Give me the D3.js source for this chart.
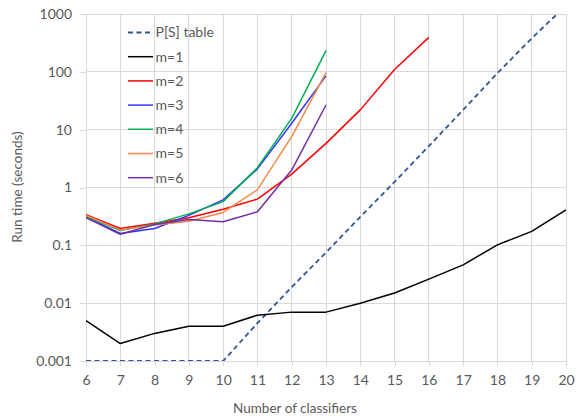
<!DOCTYPE html>
<html>
<head>
<meta charset="utf-8">
<script src="https://cdn.jsdelivr.net/npm/d3@7"></script>
<style>
  html, body { margin: 0; padding: 0; background: #fff; }
  svg { display: block; font-family: Lato, "Open Sans", sans-serif; }
</style>
</head>
<body>
<svg id="chart" width="579" height="416"></svg>
<script>
// Number of classifiers on the x axis
const classifiers = [6, 7, 8, 9, 10, 11, 12, 13, 14, 15, 16, 17, 18, 19, 20];

// Run times in seconds, one array per series (shorter series stop early)
const psTable = [0.001, 0.001, 0.001, 0.001, 0.001, 0.0045, 0.019, 0.075, 0.31, 1.25, 5.2, 22, 95, 380, 1400];
const m1 = [0.005, 0.002, 0.003, 0.004, 0.004, 0.0062, 0.007, 0.007, 0.01, 0.015, 0.026, 0.046, 0.102, 0.174, 0.41];
const m2 = [0.34, 0.195, 0.24, 0.30, 0.42, 0.63, 1.7, 5.8, 22, 110, 395];
const m3 = [0.31, 0.16, 0.195, 0.33, 0.61, 2.1, 12.9, 85];
const m4 = [0.32, 0.18, 0.235, 0.35, 0.57, 2.2, 15.7, 232];
const m5 = [0.33, 0.185, 0.225, 0.26, 0.37, 0.92, 7.6, 97];
const m6 = [0.30, 0.155, 0.23, 0.28, 0.256, 0.38, 2.0, 26.7];

const seriesNames = ["P[S] table", "m=1", "m=2", "m=3", "m=4", "m=5", "m=6"];
const seriesValues = [psTable, m1, m2, m3, m4, m5, m6];
const seriesColors = ["#2f5597", "#000000", "#ff0000", "#3333ff", "#00b050", "#f4894b", "#7030a0"];

// Axis ticks
const yTicks = [0.001, 0.01, 0.1, 1, 10, 100, 1000];
const yTickLabels = ["0.001", "0.01", "0.1", "1", "10", "100", "1000"];
const xTicks = classifiers;

const svg = d3.select("#chart");
const plotLeft = 86, plotRight = 566, plotTop = 14, plotBottom = 361;

const x = d3.scaleLinear().domain([6, 20]).range([plotLeft, plotRight]);
const y = d3.scaleLog().domain([0.001, 1000]).range([plotBottom, plotTop]);

const gridColor = "#d9d9d9";
const textColor = "#595959";

// Gridlines
svg.append("g").selectAll("line").data(yTicks).join("line")
  .attr("x1", plotLeft).attr("x2", plotRight)
  .attr("y1", d => y(d)).attr("y2", d => y(d))
  .attr("stroke", gridColor).attr("stroke-width", 1)
  .attr("shape-rendering", "crispEdges");
svg.append("g").selectAll("line").data(xTicks).join("line")
  .attr("x1", d => x(d)).attr("x2", d => x(d))
  .attr("y1", plotTop).attr("y2", plotBottom)
  .attr("stroke", gridColor).attr("stroke-width", 1)
  .attr("shape-rendering", "crispEdges");

// Axes
const yAxis = svg.append("g")
  .attr("transform", `translate(${plotLeft},0)`)
  .call(d3.axisLeft(y).tickValues(yTicks).tickSize(6).tickPadding(8)
    .tickFormat((d, i) => yTickLabels[i]));
const xAxis = svg.append("g")
  .attr("transform", `translate(0,${plotBottom})`)
  .call(d3.axisBottom(x).tickValues(xTicks).tickSize(5).tickPadding(9)
    .tickFormat(d3.format("d")));

[yAxis, xAxis].forEach(g => {
  g.select(".domain").attr("stroke", gridColor).attr("shape-rendering", "crispEdges");
  g.selectAll(".tick line").attr("stroke", gridColor).attr("shape-rendering", "crispEdges");
  g.selectAll(".tick text").attr("fill", textColor).attr("font-size", 14)
    .attr("font-family", "Lato, sans-serif");
});

// Clip so lines stop at the top of the axis range
svg.append("clipPath").attr("id", "plotClip")
  .append("rect").attr("x", plotLeft).attr("y", plotTop)
  .attr("width", plotRight - plotLeft).attr("height", plotBottom - plotTop);

const line = d3.line()
  .x((d, i) => x(classifiers[i]))
  .y(d => y(d));

const lines = svg.append("g").attr("clip-path", "url(#plotClip)");
seriesValues.forEach((vals, k) => {
  lines.append("path")
    .datum(vals)
    .attr("fill", "none")
    .attr("stroke", seriesColors[k])
    .attr("stroke-width", k === 0 ? 1.8 : 1.5)
    .attr("stroke-linejoin", "round")
    .attr("stroke-dasharray", k === 0 ? "5,3.5" : null)
    .attr("d", line);
});

// Legend
const legend = svg.append("g");
seriesNames.forEach((name, k) => {
  const ly = 32.5 + k * 24.2;
  legend.append("line")
    .attr("x1", 128).attr("x2", 153)
    .attr("y1", ly).attr("y2", ly)
    .attr("stroke", seriesColors[k]).attr("stroke-width", k === 0 ? 1.8 : 1.5)
    .attr("stroke-dasharray", k === 0 ? "5,3.5" : null);
  legend.append("text")
    .attr("x", 155.5).attr("y", ly).attr("dy", "0.35em")
    .attr("fill", textColor).attr("font-size", 14)
    .text(name);
});

// Axis titles
svg.append("text")
  .attr("x", 295).attr("y", 408).attr("dy", "0.35em")
  .attr("text-anchor", "middle").attr("fill", textColor).attr("font-size", 13.5)
  .text("Number of classifiers");
svg.append("text")
  .attr("transform", "translate(17,187) rotate(-90)")
  .attr("dy", "0.35em")
  .attr("text-anchor", "middle").attr("fill", textColor).attr("font-size", 13.5)
  .text("Run time (seconds)");
</script>
</body>
</html>
